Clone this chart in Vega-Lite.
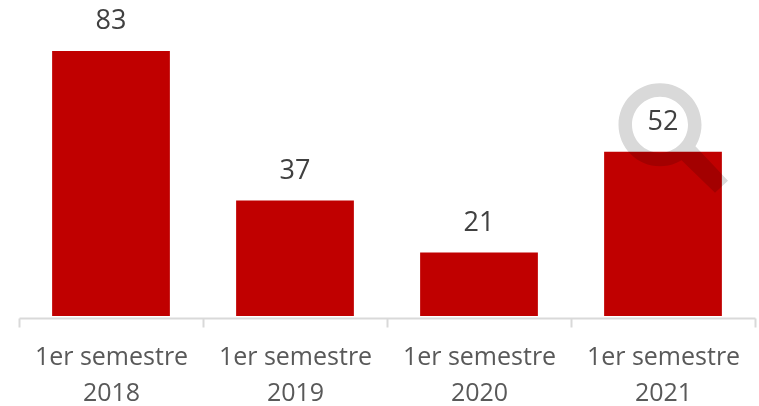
{
  "$schema": "https://vega.github.io/schema/vega-lite/v6.json",
  "width": 736,
  "height": 318,
  "autosize": "none",
  "padding": {"left": 19, "top": 0, "right": 4, "bottom": 88},
  "background": "white",
  "view": {"stroke": null},
  "data": {"values": [
    {"periodo": "1er semestre\n2018", "valor": 83},
    {"periodo": "1er semestre\n2019", "valor": 37},
    {"periodo": "1er semestre\n2020", "valor": 21},
    {"periodo": "1er semestre\n2021", "valor": 52}
  ]},
  "encoding": {
    "x": {
      "field": "periodo", "type": "nominal", "sort": null,
      "scale": {"paddingInner": 0, "paddingOuter": 0},
      "axis": {
        "title": null, "labelAngle": 0,
        "labelExpr": "split(datum.label, '\\n')",
        "labelFont": "Open Sans", "labelFontSize": 25, "labelColor": "#595959",
        "labelLineHeight": 36, "labelPadding": 17, "labelLimit": 0,
        "domainColor": "#d9d9d9", "domainWidth": 2,
        "tickColor": "#d9d9d9", "tickWidth": 2, "tickSize": 9, "tickBand": "extent"
      }
    },
    "y": {
      "field": "valor", "type": "quantitative",
      "scale": {"domain": [0.85, 98.7], "zero": false, "nice": false},
      "axis": null
    }
  },
  "layer": [
    {
      "mark": {"type": "bar", "color": "#c00000", "width": {"band": 0.64}},
      "encoding": {"y2": {"datum": 1.46}}
    },
    {
      "mark": {"type": "text", "font": "Open Sans", "fontSize": 27, "color": "#404040", "dy": -30},
      "encoding": {"text": {"field": "valor", "type": "quantitative"}}
    },
    {
      "data": {"values": [{"periodo": "1er semestre\n2021", "lupa": 60.3}]},
      "mark": {
        "type": "point", "filled": true, "color": "#d9d9d9", "opacity": 1, "blend": "multiply", "xOffset": -3, "size": 10000,
        "shape": "M -0.83 0 A 0.83 0.83 0 1 1 0.83 0 A 0.83 0.83 0 1 1 -0.83 0 Z M -0.56 0 A 0.56 0.56 0 1 0 0.56 0 A 0.56 0.56 0 1 0 -0.56 0 Z M 0.68 0.40 L 1.36 1.12 L 1.10 1.36 L 0.40 0.68 Z"
      },
      "encoding": {"y": {"field": "lupa", "type": "quantitative"}}
    }
  ]
}
